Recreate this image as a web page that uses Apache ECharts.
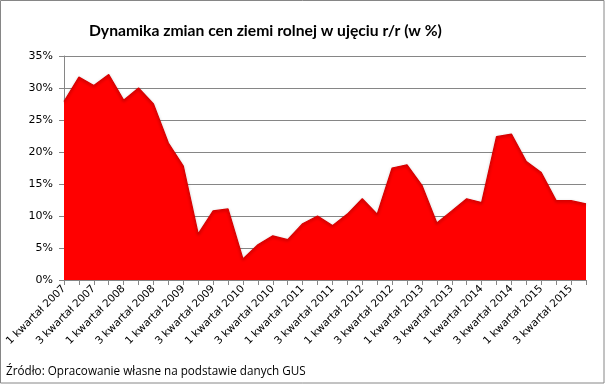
<!DOCTYPE html>
<html><head><meta charset="utf-8">
<script src="https://cdn.jsdelivr.net/npm/echarts@6/dist/echarts.min.js"></script>
<style>html,body{margin:0;padding:0;background:#fff}#c{width:606px;height:385px}</style>
</head><body><div id="c"></div>
<script>
const years = [2007,2008,2009,2010,2011,2012,2013,2014,2015];
const categories = [];
years.forEach(y => { for (let q = 1; q <= 4; q++) categories.push(q + ' kwartał ' + y); });
const values = [27.9,31.7,30.4,32.1,28.1,30.0,27.5,21.4,17.8,7.2,10.8,11.1,
                3.3,5.5,6.9,6.3,8.8,10.0,8.5,10.3,12.7,10.3,17.5,18.0,
                14.8,8.9,10.8,12.7,12.1,22.4,22.8,18.5,16.8,12.4,12.4,11.9];
const yTicks = [0,5,10,15,20,25,30,35];
const titleText = 'Dynamika zmian cen ziemi rolnej w ujęciu r/r (w %)';
const sourceText = 'Źródło: Opracowanie własne na podstawie danych GUS';

const chart = echarts.init(document.getElementById('c'), null, {renderer:'canvas'});
chart.setOption({
  animation:false,
  backgroundColor:'#fff',
  title:{text:titleText,left:84,top:18,textStyle:{fontFamily:'Lato',fontWeight:'bold',fontSize:15.7,color:'#000'}},
  graphic:[
    {type:'rect',shape:{x:0.5,y:0.5,width:603.5,height:382.5},style:{fill:'none',stroke:'#868686',lineWidth:1}},
    {type:'text',left:6,top:366,style:{text:sourceText,font:'11.7px "Open Sans"',fill:'#000'}}
  ],
  grid:{left:64,right:20,top:56,bottom:105,containLabel:false},
  xAxis:{type:'category',data:categories,boundaryGap:false,
    axisLine:{lineStyle:{color:'#868686'}},
    axisTick:{show:true,interval:0,length:5,lineStyle:{color:'#868686'}},
    axisLabel:{interval:1,rotate:45,fontFamily:'DejaVu Sans',fontSize:10.5,color:'#000',margin:7}},
  yAxis:{type:'value',min:0,max:35,interval:5,
    axisLine:{show:true,lineStyle:{color:'#868686'}},
    axisTick:{show:true,length:5,lineStyle:{color:'#868686'}},
    splitLine:{lineStyle:{color:'#868686',width:1}},
    axisLabel:{formatter:v=>yTicks.includes(v)?v+'%':'',fontFamily:'DejaVu Sans',fontSize:11,color:'#000',margin:11}},
  series:[{type:'line',data:values,symbol:'none',
    lineStyle:{color:'#d80000',width:1.2,shadowColor:'rgba(0,0,0,0.3)',shadowBlur:3,shadowOffsetY:1},
    areaStyle:{color:'#ff0000',opacity:1}}]
});
</script></body></html>
